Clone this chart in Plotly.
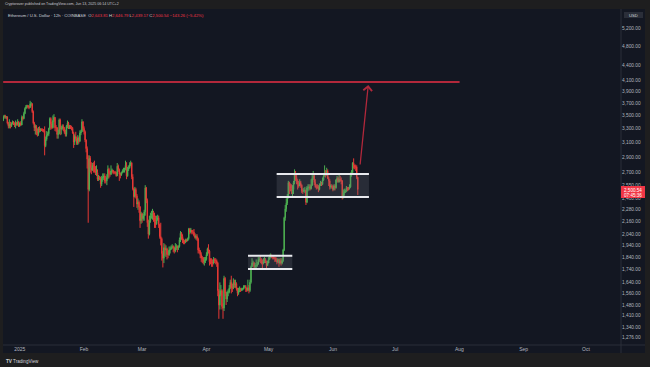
import math
import pandas as pd
import plotly.graph_objects as go

# ---------------- data (ETH/USD, 12h candles, Coinbase) ----------------
start_time = "2024-12-24 00:00"
first_open = 3420

closes = [
    3480, 3490, 3470, 3480, 3380, 3330, 3370, 3330, 3370, 3400, 3380, 3350, 3380, 3360, 3400, 3330,  # Dec 24-31
    3380, 3350, 3470, 3450, 3530, 3610, 3640, 3660, 3640, 3630, 3690, 3690, 3560, 3380, 3310, 3330,  # Jan 1-8
    3250, 3220, 3300, 3270, 3290, 3280, 3270, 3270, 3050, 3140, 3200, 3220, 3300, 3450, 3370, 3310,  # Jan 9-16
    3420, 3470, 3310, 3310, 3210, 3220, 3430, 3290, 3300, 3330, 3300, 3240, 3210, 3330, 3380, 3310,  # Jan 17-24
    3330, 3310, 3300, 3230, 3100, 3180, 3150, 3080, 3160, 3110, 3230, 3250, 3400, 3300, 3250, 3130,  # Jan 25-Feb 1
    3010, 2870, 2500, 2880, 2760, 2730, 2790, 2780, 2720, 2690, 2700, 2620, 2640, 2630, 2560, 2630,  # Feb 2-9
    2640, 2660, 2600, 2600, 2640, 2740, 2690, 2680, 2720, 2730, 2700, 2700, 2700, 2660, 2780, 2740,  # Feb 10-17
    2680, 2670, 2700, 2720, 2720, 2740, 2790, 2660, 2740, 2760, 2800, 2820, 2650, 2510, 2420, 2500,  # Feb 18-25
    2430, 2340, 2360, 2310, 2170, 2240, 2190, 2220, 2260, 2520, 2380, 2150, 2040, 2170, 2220, 2240,  # Feb 26-Mar 5
    2250, 2200, 2160, 2140, 2180, 2200, 2130, 2020, 2000, 1870, 1830, 1920, 1900, 1910, 1860, 1860,  # Mar 6-13
    1900, 1910, 1920, 1930, 1920, 1890, 1920, 1930, 1920, 1930, 1990, 2050, 2020, 1980, 1970, 1970,  # Mar 14-21
    1990, 1980, 2000, 2090, 2060, 2080, 2060, 2060, 2030, 2010, 2020, 2000, 1900, 1890, 1860, 1830,  # Mar 22-29
    1830, 1800, 1810, 1820, 1860, 1910, 1890, 1800, 1800, 1800, 1790, 1820, 1810, 1810, 1790, 1580,  # Mar 30-Apr 6
    1480, 1550, 1580, 1470, 1460, 1670, 1560, 1520, 1570, 1570, 1600, 1640, 1600, 1600, 1640, 1620,  # Apr 7-14
    1630, 1590, 1560, 1580, 1590, 1580, 1590, 1590, 1610, 1610, 1600, 1580, 1600, 1580, 1640, 1760,  # Apr 15-22
    1790, 1790, 1760, 1770, 1770, 1780, 1820, 1820, 1810, 1790, 1790, 1800, 1820, 1800, 1770, 1790,  # Apr 23-30
    1820, 1840, 1850, 1840, 1840, 1830, 1830, 1810, 1800, 1820, 1790, 1810, 1790, 1810, 1900, 2200,  # May 1-8
    2290, 2350, 2420, 2580, 2540, 2510, 2480, 2500, 2580, 2680, 2640, 2600, 2560, 2540, 2580, 2550,  # May 9-16
    2480, 2480, 2490, 2490, 2360, 2520, 2520, 2530, 2510, 2550, 2630, 2660, 2580, 2530, 2530, 2530,  # May 17-24
    2500, 2550, 2570, 2560, 2610, 2660, 2700, 2680, 2720, 2630, 2600, 2530, 2540, 2530, 2500, 2540,  # May 25-Jun 1
    2520, 2610, 2630, 2590, 2620, 2610, 2600, 2420, 2460, 2480, 2480, 2520, 2510, 2510, 2530, 2680,  # Jun 2-9
    2700, 2820, 2790, 2770, 2770, 2643.81, 2500.54,                                                  # Jun 10-13
]

highs = [
    3500, 3510, 3510, 3490, 3480, 3400, 3440, 3400, 3390, 3420, 3410, 3390, 3420, 3400, 3440, 3410,
    3390, 3410, 3500, 3490, 3560, 3630, 3670, 3675, 3670, 3660, 3740, 3720, 3700, 3580, 3400, 3360,
    3350, 3300, 3320, 3330, 3300, 3300, 3300, 3290, 3330, 3180, 3260, 3250, 3310, 3470, 3470, 3400,
    3500, 3520, 3470, 3350, 3320, 3280, 3450, 3450, 3340, 3360, 3360, 3320, 3280, 3350, 3420, 3400,
    3350, 3350, 3340, 3320, 3250, 3210, 3250, 3180, 3200, 3180, 3270, 3280, 3440, 3410, 3330, 3270,
    3140, 3040, 2920, 2920, 2910, 2830, 2820, 2830, 2850, 2780, 2790, 2740, 2670, 2660, 2650, 2660,
    2690, 2690, 2690, 2660, 2680, 2790, 2760, 2720, 2790, 2750, 2730, 2720, 2720, 2710, 2820, 2800,
    2750, 2700, 2710, 2740, 2760, 2760, 2850, 2830, 2770, 2790, 2830, 2850, 2830, 2680, 2520, 2530,
    2520, 2450, 2400, 2380, 2320, 2260, 2250, 2240, 2280, 2550, 2530, 2400, 2180, 2220, 2250, 2270,
    2290, 2270, 2250, 2220, 2220, 2230, 2220, 2140, 2150, 2010, 1890, 1960, 1950, 1940, 1920, 1890,
    1930, 1930, 1940, 1950, 1940, 1930, 1960, 1950, 1940, 1940, 2010, 2070, 2060, 2040, 2000, 1990,
    2000, 2000, 2010, 2100, 2100, 2100, 2080, 2080, 2090, 2050, 2040, 2040, 2010, 1920, 1900, 1880,
    1850, 1840, 1840, 1840, 1880, 1920, 1950, 1900, 1830, 1830, 1820, 1840, 1830, 1830, 1820, 1800,
    1590, 1640, 1620, 1590, 1490, 1690, 1680, 1570, 1580, 1590, 1620, 1660, 1690, 1630, 1670, 1660,
    1660, 1640, 1600, 1600, 1610, 1600, 1600, 1600, 1620, 1620, 1620, 1600, 1660, 1620, 1660, 1770,
    1830, 1810, 1800, 1790, 1820, 1800, 1840, 1840, 1850, 1830, 1820, 1830, 1840, 1830, 1810, 1810,
    1840, 1860, 1870, 1860, 1850, 1850, 1840, 1840, 1830, 1830, 1820, 1830, 1830, 1830, 1910, 2210,
    2330, 2400, 2450, 2600, 2590, 2570, 2560, 2550, 2600, 2740, 2720, 2670, 2620, 2600, 2620, 2600,
    2560, 2510, 2520, 2530, 2500, 2540, 2560, 2560, 2560, 2620, 2680, 2720, 2690, 2620, 2560, 2560,
    2550, 2570, 2600, 2590, 2640, 2680, 2790, 2730, 2760, 2740, 2650, 2620, 2560, 2560, 2550, 2560,
    2560, 2620, 2660, 2650, 2680, 2660, 2640, 2610, 2500, 2510, 2500, 2540, 2530, 2530, 2560, 2700,
    2730, 2830, 2880, 2800, 2800, 2790, 2646.79,
]

lows = [
    3410, 3450, 3450, 3440, 3360, 3300, 3300, 3300, 3320, 3360, 3350, 3320, 3300, 3340, 3340, 3320,
    3330, 3340, 3350, 3420, 3440, 3520, 3600, 3620, 3610, 3600, 3620, 3650, 3540, 3360, 3260, 3210,
    3200, 3180, 3190, 3240, 3250, 3260, 3250, 3240, 2920, 3030, 3120, 3180, 3190, 3280, 3280, 3290,
    3300, 3400, 3260, 3250, 3150, 3150, 3220, 3200, 3210, 3280, 3260, 3220, 3180, 3180, 3300, 3290,
    3290, 3290, 3270, 3220, 3020, 3060, 3120, 3060, 3060, 3080, 3110, 3200, 3250, 3270, 3210, 3100,
    2960, 2750, 2150, 2480, 2700, 2680, 2720, 2700, 2700, 2670, 2660, 2600, 2600, 2610, 2520, 2540,
    2590, 2610, 2570, 2570, 2550, 2620, 2630, 2650, 2670, 2700, 2680, 2680, 2680, 2650, 2660, 2710,
    2600, 2630, 2660, 2690, 2700, 2700, 2730, 2620, 2650, 2720, 2750, 2780, 2620, 2490, 2310, 2410,
    2400, 2300, 2280, 2250, 2100, 2140, 2150, 2170, 2170, 2220, 2350, 2110, 2000, 2030, 2150, 2190,
    2180, 2160, 2100, 2100, 2130, 2170, 2100, 2000, 1940, 1810, 1755, 1790, 1850, 1840, 1820, 1830,
    1850, 1870, 1900, 1910, 1880, 1870, 1880, 1900, 1880, 1900, 1920, 1970, 1990, 1960, 1950, 1950,
    1960, 1970, 1980, 1990, 2040, 2050, 2040, 2040, 2020, 2000, 1990, 1980, 1870, 1870, 1830, 1800,
    1790, 1780, 1770, 1790, 1810, 1850, 1870, 1770, 1780, 1760, 1760, 1780, 1790, 1780, 1760, 1540,
    1390, 1450, 1540, 1450, 1390, 1440, 1540, 1480, 1500, 1540, 1560, 1590, 1560, 1570, 1590, 1600,
    1600, 1580, 1540, 1550, 1570, 1570, 1580, 1580, 1590, 1600, 1570, 1570, 1580, 1560, 1570, 1630,
    1760, 1770, 1740, 1740, 1750, 1760, 1780, 1800, 1790, 1780, 1750, 1780, 1790, 1790, 1750, 1770,
    1790, 1820, 1830, 1830, 1820, 1820, 1800, 1800, 1780, 1790, 1760, 1780, 1770, 1780, 1800, 1890,
    2170, 2260, 2330, 2400, 2450, 2480, 2450, 2420, 2450, 2560, 2600, 2560, 2500, 2520, 2540, 2520,
    2460, 2450, 2470, 2460, 2330, 2350, 2480, 2490, 2490, 2500, 2540, 2610, 2550, 2520, 2500, 2510,
    2470, 2490, 2540, 2540, 2550, 2600, 2650, 2640, 2660, 2620, 2540, 2500, 2510, 2510, 2480, 2490,
    2490, 2510, 2580, 2580, 2580, 2590, 2560, 2390, 2400, 2430, 2460, 2470, 2480, 2490, 2500, 2520,
    2650, 2690, 2750, 2740, 2720, 2620, 2439.17,
]

# axis ticks
price_ticks = [5200, 4800, 4400, 4100, 3900, 3700, 3500, 3300, 3100, 2900, 2700, 2550,
               2400, 2280, 2160, 2040, 1940, 1840, 1740, 1640, 1560, 1480, 1410, 1340, 1276]
month_ticks = ["2025-01-01", "2025-02-01", "2025-03-01", "2025-04-01", "2025-05-01",
               "2025-06-01", "2025-07-01", "2025-08-01", "2025-09-01", "2025-10-01"]
month_labels = ["2025", "Feb", "Mar", "Apr", "May", "Jun", "Jul", "Aug", "Sep", "Oct"]

# drawings
lower_box_dates = ["2025-04-21 01:30", "2025-05-12 10:00"]
lower_box_levels = [1743, 1851]
upper_box_dates = ["2025-05-04 21:00", "2025-06-18 09:00"]
upper_box_levels = [2416, 2684]
target_line_dates = ["2024-12-24 00:00", "2025-08-01 02:00"]
target_level = 4074
arrow_start = ("2025-06-14 01:00", 2782)
arrow_end = ("2025-06-18 01:00", 4018)

last_price = 2500.54

# ---------------- build ----------------
opens = [first_open] + closes[:-1]
highs = [max(h, o, c) for h, o, c in zip(highs, opens, closes)]
lows = [min(l, o, c) for l, o, c in zip(lows, opens, closes)]
times = pd.date_range(start_time, periods=len(closes), freq="12h")

NAVY = "#131722"
OUTER = "#1e1e1f"
GREEN = "#4caf50"
RED = "#e53935"
TXT = "#b2b5be"
LINE_RED = "#b2283b"

PL, PR, PT, PB = 3, 621, 9, 345


def px(x):
    return (x - PL) / (PR - PL)


def py(y):
    return (PB - y) / (PB - PT)


fig = go.Figure()
fig.add_trace(go.Candlestick(
    x=times, open=opens, high=highs, low=lows, close=closes,
    increasing=dict(line=dict(color=GREEN, width=1), fillcolor=GREEN),
    decreasing=dict(line=dict(color=RED, width=1), fillcolor=RED),
    whiskerwidth=0, hoverinfo="skip", showlegend=False,
))


def box(dates, levels):
    d0, d1 = dates
    l0, l1 = levels
    fig.add_trace(go.Scatter(x=[d0, d1, d1, d0, d0], y=[l0, l0, l1, l1, l0], mode="lines",
                             fill="toself", fillcolor="rgba(120,123,134,0.22)",
                             line=dict(width=0), hoverinfo="skip", showlegend=False))
    for lv in levels:
        fig.add_trace(go.Scatter(x=[d0, d1], y=[lv, lv], mode="lines",
                                 line=dict(color="#e8e9ee", width=2),
                                 hoverinfo="skip", showlegend=False))


box(lower_box_dates, lower_box_levels)
box(upper_box_dates, upper_box_levels)

fig.add_trace(go.Scatter(x=target_line_dates, y=[target_level, target_level], mode="lines",
                         line=dict(color=LINE_RED, width=2), hoverinfo="skip", showlegend=False))

annotations = [
    dict(x=arrow_end[0], y=math.log10(arrow_end[1]), ax=arrow_start[0], ay=math.log10(arrow_start[1]),
         xref="x", yref="y", axref="x", ayref="y", text="", showarrow=True,
         arrowhead=4, arrowsize=1.3, arrowwidth=1.3, arrowcolor=LINE_RED),
    dict(x=px(3), y=py(4.5), xref="paper", yref="paper", xanchor="left", yanchor="middle",
         text="Cryptorover published on TradingView.com, Jun 13, 2025 06:14 UTC+2",
         showarrow=False, font=dict(size=3.6, color="#c8cad0", family="Liberation Sans, Arial")),
    dict(x=px(6), y=py(15.3), xref="paper", yref="paper", xanchor="left", yanchor="middle",
         text=("Ethereum / U.S. Dollar · 12h · COINBASE&nbsp;&nbsp;"
               "O<span style='color:#f23645'>2,643.81</span> "
               "H<span style='color:#f23645'>2,646.79</span> "
               "L<span style='color:#f23645'>2,439.17</span> "
               "C<span style='color:#f23645'>2,500.54</span> "
               "<span style='color:#f23645'>−143.26 (−5.42%)</span>"),
         showarrow=False, font=dict(size=4.2, color="#d1d4dc", family="Liberation Sans, Arial")),
    dict(x=px(633.5), y=py(15), xref="paper", yref="paper", xanchor="center", yanchor="middle",
         text="USD", showarrow=False, font=dict(size=4.2, color="#d1d4dc", family="Liberation Sans, Arial")),
    dict(x=px(633), y=py(190), xref="paper", yref="paper", xanchor="center", yanchor="middle",
         text=f"{last_price:,.2f}", showarrow=False,
         font=dict(size=4.6, color="#ffffff", family="Liberation Sans, Arial")),
    dict(x=px(633), y=py(195), xref="paper", yref="paper", xanchor="center", yanchor="middle",
         text="07:45:36", showarrow=False,
         font=dict(size=4.6, color="#ffffff", family="Liberation Sans, Arial")),
    dict(x=px(4), y=py(361), xref="paper", yref="paper", xanchor="left", yanchor="middle",
         text="<b>TV</b> TradingView", showarrow=False,
         font=dict(size=4.6, color="#d1d4dc", family="Liberation Sans, Arial")),
]

shapes = [
    dict(type="rect", xref="paper", yref="paper", x0=px(3), x1=px(645), y0=py(353), y1=py(9),
         fillcolor=NAVY, line=dict(width=0), layer="below"),
    dict(type="line", xref="paper", yref="paper", x0=px(621), x1=px(621), y0=py(353), y1=py(9),
         line=dict(color="#2a2e39", width=1)),
    dict(type="line", xref="paper", yref="paper", x0=px(3), x1=px(645), y0=py(345), y1=py(345),
         line=dict(color="#2a2e39", width=1)),
    dict(type="rect", xref="paper", yref="paper", x0=px(624), x1=px(643), y0=py(18), y1=py(12),
         fillcolor="#2a2e39", line=dict(width=0)),
    dict(type="rect", xref="paper", yref="paper", x0=px(621), x1=px(645), y0=py(198), y1=py(186),
         fillcolor="#f23645", line=dict(width=0)),
]

fig.update_layout(
    width=650, height=367,
    margin=dict(l=PL, r=650 - PR, t=PT, b=367 - PB, pad=0),
    paper_bgcolor=OUTER, plot_bgcolor=NAVY,
    showlegend=False,
    font=dict(family="Liberation Sans, Arial", color=TXT),
    annotations=annotations, shapes=shapes,
    xaxis=dict(type="date", range=["2024-12-23 22:00", "2025-10-17 22:00"],
               tickvals=month_ticks, ticktext=month_labels, ticks="",
               tickfont=dict(size=5, color=TXT), showgrid=False, zeroline=False,
               showline=False, rangeslider=dict(visible=False), fixedrange=True,
               automargin=False),
    yaxis=dict(type="log", range=[math.log10(1234), math.log10(5675)], side="right",
               tickvals=price_ticks, ticktext=[f"{v:,.2f}" for v in price_ticks], ticks="",
               tickfont=dict(size=4.8, color=TXT), showgrid=False, zeroline=False,
               showline=False, fixedrange=True, automargin=False),
)

fig.write_html(
    "out.html",
    config={"displayModeBar": False, "staticPlot": True},
    post_script="document.body.style.margin='0';document.body.style.background='#1e1e1f';",
)
